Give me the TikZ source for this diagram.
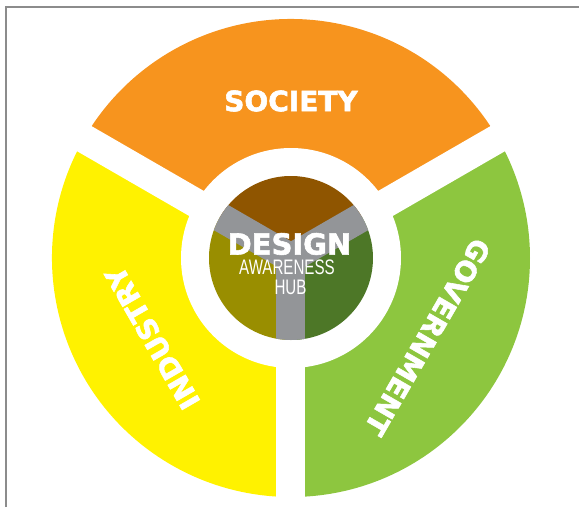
\documentclass[tikz,border=0pt]{standalone}
\usepackage{fontspec}
\setmainfont{DejaVu Sans}[BoldFeatures={FakeBold=2}]
\newfontfamily\narrowfont{Liberation Sans}
\definecolor{societyorange}{HTML}{F7941E}
\definecolor{industryyellow}{HTML}{FFF200}
\definecolor{govgreen}{HTML}{8DC63F}
\definecolor{hubbrown}{HTML}{8F5500}
\definecolor{hubolive}{HTML}{998E00}
\definecolor{hubgreen}{HTML}{4D7727}
\definecolor{hubgray}{HTML}{939598}
\tikzset{
  sectorlabel/.style={text=white,font=\bfseries\fontsize{28}{30}\selectfont},
  gapline/.style={white,line width=29pt},
  hubline/.style={hubgray,line width=29pt,line cap=round},
}
\newcommand{\Rout}{239pt}
\newcommand{\Rhub}{82pt}

\begin{document}
\begin{tikzpicture}
  \useasboundingbox (-291pt,-249pt) rectangle (288pt,258pt);
  \draw[gray!90,line width=1.5pt] (-285pt,-249pt) -- (-285pt,251pt) -- (288pt,251pt);
  % outer ring
  \fill[societyorange]  (0,0) -- (30:\Rout)  arc[start angle=30,end angle=150,radius=\Rout] -- cycle;
  \fill[industryyellow] (0,0) -- (150:\Rout) arc[start angle=150,end angle=270,radius=\Rout] -- cycle;
  \fill[govgreen]       (0,0) -- (270:\Rout) arc[start angle=270,end angle=390,radius=\Rout] -- cycle;
  \foreach \a in {30,150,270}
    \draw[gapline] (0,0) -- (\a:245pt);
  \fill[white] (0,0) circle (110pt);
  % hub
  \fill[hubbrown] (0,0) -- (30:\Rhub)  arc[start angle=30,end angle=150,radius=\Rhub] -- cycle;
  \fill[hubolive] (0,0) -- (150:\Rhub) arc[start angle=150,end angle=270,radius=\Rhub] -- cycle;
  \fill[hubgreen] (0,0) -- (270:\Rhub) arc[start angle=270,end angle=390,radius=\Rhub] -- cycle;
  \begin{scope}
    \clip (0,0) circle (\Rhub);
    \foreach \a in {30,150,270}
      \draw[hubline] (0,0) -- (\a:100pt);
  \end{scope}
  % labels
  \node[sectorlabel] (society) at (90:157pt) {SOCIETY};
  \node[sectorlabel,rotate=120] (industry) at (210:160pt) {INDUSTRY};
  \node[sectorlabel,rotate=240] (government) at (330:158pt) {GOVERNMENT};
  \node[text=white,font=\bfseries\fontsize{29}{30}\selectfont] (design) at (-1.5pt,14pt) {DESIGN};
  \node[text=white,font=\narrowfont\fontsize{21}{22}\selectfont,xscale=0.72] (awareness) at (-4pt,-9.5pt) {AWARENESS};
  \node[text=white,font=\narrowfont\fontsize{21}{22}\selectfont,xscale=0.72] (hub) at (-0.5pt,-29.5pt) {HUB};
\end{tikzpicture}
\end{document}
